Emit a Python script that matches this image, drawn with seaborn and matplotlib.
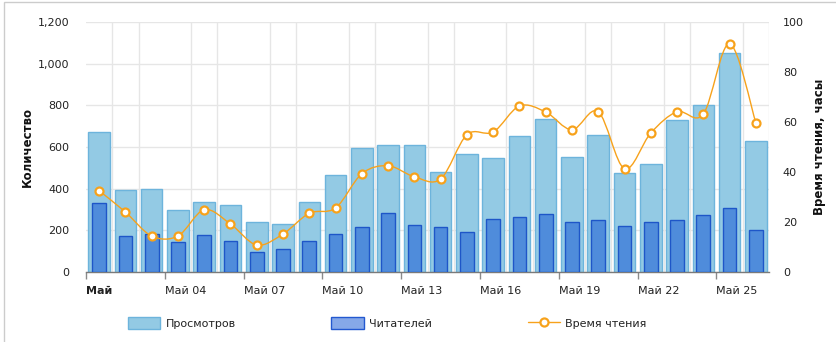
import numpy as np
import pandas as pd
import matplotlib
matplotlib.use("Agg")
import matplotlib.pyplot as plt
from matplotlib.path import Path
from matplotlib.patches import PathPatch, Patch, Rectangle
from matplotlib.lines import Line2D
import matplotlib.transforms as mtransforms
import seaborn as sns

# Daily stats for May 1-26
days = list(range(1, 27))
views = [670, 392, 397, 296, 335, 320, 238, 229, 336, 464, 594, 608, 608,
         478, 565, 546, 651, 733, 550, 656, 474, 517, 730, 800, 1050, 627]
readers = [330, 171, 181, 142, 176, 147, 95, 109, 147, 181, 214, 282, 224,
           214, 190, 253, 262, 277, 238, 248, 219, 238, 248, 272, 306, 200]
reading_hours = [32.5, 24.0, 14.4, 14.4, 24.9, 19.2, 10.8, 15.2, 23.5, 25.6,
                 39.3, 42.5, 38.1, 37.2, 54.9, 56.0, 66.4, 64.0, 56.9, 64.1,
                 41.3, 55.6, 64.1, 63.2, 91.3, 59.7]
tick_days = [1, 4, 7, 10, 13, 16, 19, 22, 25]
tick_labels = ["Май", "Май 04", "Май 07", "Май 10", "Май 13", "Май 16",
               "Май 19", "Май 22", "Май 25"]

df = pd.DataFrame({"day": days, "views": views, "readers": readers,
                   "hours": reading_hours})

sns.set_style("white")
plt.rcParams["font.family"] = ["DejaVu Sans"]

LIGHT_FILL, LIGHT_EDGE = "#93CAE4", "#6DB4DC"
DARK_FILL, DARK_EDGE = "#4F8CDB", "#1E56C8"
ORANGE = "#F7A21B"
GRID = "#E6E6E6"
TEXT = "#222222"

fig = plt.figure(figsize=(8.36, 3.42), dpi=100)
ax = fig.add_axes([86 / 836, 70 / 342, 683 / 836, 250 / 342])

sns.barplot(data=df, x="day", y="views", ax=ax, color=LIGHT_FILL,
            saturation=1, width=0.82, edgecolor=LIGHT_EDGE, linewidth=1,
            zorder=2)
sns.barplot(data=df, x="day", y="readers", ax=ax, color=DARK_FILL,
            saturation=1, width=0.52, edgecolor=DARK_EDGE, linewidth=1,
            zorder=3)

n = len(days)
ax.set_xlim(-0.5, n - 0.5)
ax.set_ylim(0, 1200)
ax.set_yticks(range(0, 1201, 200))
ax.set_yticklabels([f"{v:,}" for v in range(0, 1201, 200)],
                   fontsize=8, color=TEXT)

# day boundaries: minor ticks carry the vertical grid, major ticks every 3 days
ax.set_xticks([i - 0.5 for i in range(n + 1)], minor=True)
ax.set_xticks([d - 1.5 for d in tick_days])
ax.set_xticklabels(tick_labels, fontsize=8, color=TEXT, ha="left")
offset = mtransforms.ScaledTranslation(3 / 100, 0, fig.dpi_scale_trans)
for i, lab in enumerate(ax.get_xticklabels()):
    lab.set_transform(lab.get_transform() + offset)
    if i == 0:
        lab.set_fontweight("bold")
ax.tick_params(axis="x", which="major", length=5, width=1, color="#8A8A8A",
               pad=5, direction="out", bottom=True)
ax.tick_params(axis="x", which="minor", length=0)
ax.tick_params(axis="y", length=0, pad=12)
ax.grid(True, axis="y", which="major", color=GRID, linewidth=1, zorder=0)
ax.grid(True, axis="x", which="minor", color=GRID, linewidth=1, zorder=0)
ax.set_axisbelow(True)
for s in ["top", "right", "left"]:
    ax.spines[s].set_visible(False)
ax.spines["bottom"].set_color("#7A7A7A")
ax.spines["bottom"].set_linewidth(1)
ax.set_xlabel("")
ax.set_ylabel("")
fig.text(27 / 836, 1 - 147 / 342, "Количество", rotation=90, ha="center",
         va="center", fontsize=8.5, fontweight="bold", color="#111111")

# reading time on the secondary axis
ax2 = ax.twinx()
ax2.set_ylim(0, 100)
ax2.set_yticks(range(0, 101, 20))
ax2.set_yticklabels([str(v) for v in range(0, 101, 20)], fontsize=8,
                    color=TEXT)
ax2.tick_params(axis="y", length=0, pad=10)
for s in ["top", "right", "left", "bottom"]:
    ax2.spines[s].set_visible(False)
fig.text(819 / 836, 1 - 147 / 342, "Время чтения, часы", rotation=90,
         ha="center", va="center", fontsize=8.5, fontweight="bold",
         color="#111111")

# smooth curve through the points (Catmull-Rom as cubic Bezier segments)
xs = np.arange(n, dtype=float)
ys = np.asarray(reading_hours, dtype=float)
verts = [(xs[0], ys[0])]
codes = [Path.MOVETO]
for i in range(n - 1):
    x0, y0 = (xs[i - 1], ys[i - 1]) if i > 0 else (xs[i], ys[i])
    x3, y3 = (xs[i + 2], ys[i + 2]) if i + 2 < n else (xs[i + 1], ys[i + 1])
    c1 = (xs[i] + (xs[i + 1] - x0) / 6, ys[i] + (ys[i + 1] - y0) / 6)
    c2 = (xs[i + 1] - (x3 - xs[i]) / 6, ys[i + 1] - (y3 - ys[i]) / 6)
    verts += [c1, c2, (xs[i + 1], ys[i + 1])]
    codes += [Path.CURVE4] * 3
ax2.add_patch(PathPatch(Path(verts, codes), facecolor="none",
                        edgecolor=ORANGE, linewidth=1.0, zorder=4))
sns.scatterplot(x=xs, y=ys, ax=ax2, s=33, facecolor="white",
                edgecolor=ORANGE, linewidth=1.6, zorder=5, legend=False)
ax2.set_xlim(-0.5, n - 0.5)

# legend below the plot
handles = [
    Patch(facecolor=LIGHT_FILL, edgecolor=LIGHT_EDGE, linewidth=1),
    Patch(facecolor="#86A8E8", edgecolor="#2358D0", linewidth=1),
    Line2D([0], [0], color=ORANGE, linewidth=1.0, marker="o", markersize=5.8,
           markerfacecolor="white", markeredgecolor=ORANGE,
           markeredgewidth=1.6),
]
fig.legend(handles, ["Просмотров", "Читателей", "Время чтения"], ncol=3,
           loc="center left", bbox_to_anchor=(118 / 836, 1 - 323 / 342),
           frameon=False, fontsize=8, handlelength=2.9, handleheight=1.4,
           handletextpad=0.5, columnspacing=8.6, labelcolor=TEXT)

# light frame around the figure
fig.patches.append(Rectangle((4 / 836, -0.01), 1.0, 1 - 1.5 / 342 + 0.01,
                             transform=fig.transFigure, fill=False,
                             edgecolor="#CCCCCC", linewidth=1))

fig.savefig("out.png", dpi=100)
